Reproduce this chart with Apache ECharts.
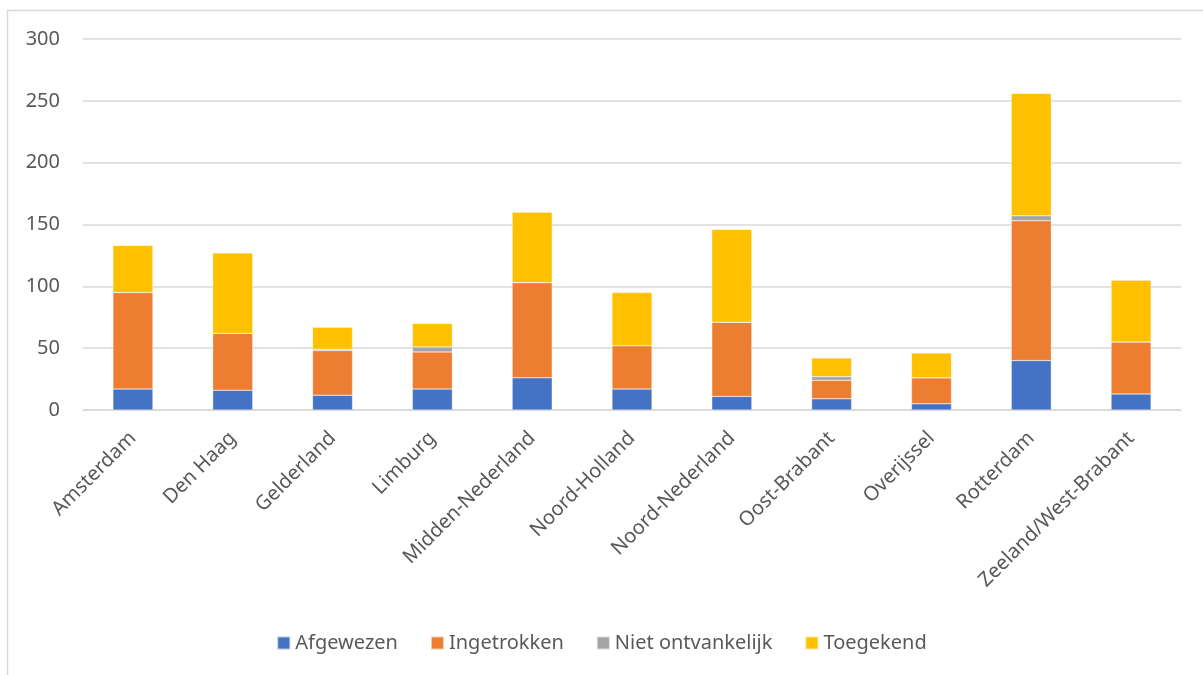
<!DOCTYPE html>
<html>
<head>
<meta charset="utf-8">
<script src="https://cdn.jsdelivr.net/npm/echarts@6/dist/echarts.min.js"></script>
<style>html,body{margin:0;padding:0;background:#fff;}#c{width:1203px;height:675px;}</style>
</head>
<body>
<div id="c"></div>
<script>
const categories = ['Amsterdam','Den Haag','Gelderland','Limburg','Midden-Nederland','Noord-Holland','Noord-Nederland','Oost-Brabant','Overijssel','Rotterdam','Zeeland/West-Brabant'];
const afgewezen = [17, 16, 12, 17, 26, 17, 11, 9, 5, 40, 13];
const ingetrokken = [78, 46, 36, 30, 77, 35, 60, 15, 21, 113, 42];
const nietOntvankelijk = [0, 0, 1, 4, 0, 0, 0, 3, 0, 4, 0];
const toegekend = [38, 65, 18, 19, 57, 43, 75, 15, 20, 99, 50];
const yTicks = [0, 50, 100, 150, 200, 250, 300];

const font = 'Noto Sans';
const txt = '#595959';
function s(name, data, color) {
  return {name, type: 'bar', stack: 'total', data, barWidth: 40,
    itemStyle: {color, borderColor: 'rgba(255,255,255,0.6)', borderWidth: 0.5}};
}
const chart = echarts.init(document.getElementById('c'));
chart.setOption({
  animation: false,
  textStyle: {fontFamily: font},
  graphic: [{type: 'rect', shape: {x: 7.5, y: 10.5, width: 1220, height: 700},
    style: {fill: 'none', stroke: '#d9d9d9', lineWidth: 1.5}, silent: true}],
  grid: {left: 83, right: 22, top: 39, bottom: 265},
  legend: {bottom: 17, left: 'center', itemWidth: 13, itemHeight: 13, itemGap: 32,
    icon: 'rect', textStyle: {fontFamily: font, fontSize: 20, color: txt},
    data: ['Afgewezen','Ingetrokken','Niet ontvankelijk','Toegekend']},
  xAxis: {type: 'category', data: categories,
    axisLine: {lineStyle: {color: '#d9d9d9', width: 1.5}}, axisTick: {show: false},
    axisLabel: {rotate: 45, margin: 25, fontSize: 20, color: txt, fontFamily: font, interval: 0}},
  yAxis: {type: 'value', min: yTicks[0], max: yTicks[yTicks.length-1], interval: 50,
    axisLine: {show: false}, axisTick: {show: false},
    splitLine: {lineStyle: {color: '#d9d9d9', width: 1.5}},
    axisLabel: {margin: 23, fontSize: 20, color: txt, fontFamily: font}},
  series: [
    s('Afgewezen', afgewezen, '#4472C4'),
    s('Ingetrokken', ingetrokken, '#ED7D31'),
    s('Niet ontvankelijk', nietOntvankelijk, '#A5A5A5'),
    s('Toegekend', toegekend, '#FFC000')
  ]
});
</script>
</body>
</html>
